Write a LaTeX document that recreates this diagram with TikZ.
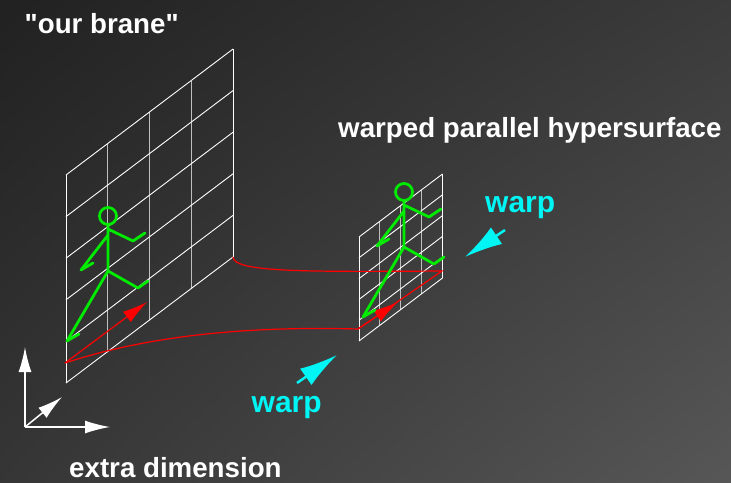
\documentclass[tikz,border=0pt]{standalone}
\usepackage{fontspec}
\setmainfont{Liberation Sans}[Ligatures = TeXOff]
\usetikzlibrary{arrows.meta,shadings}
\definecolor{figgreen}{RGB}{0,235,0}
\definecolor{warpcyan}{RGB}{0,245,245}

\begin{document}
\begin{tikzpicture}[x = 1pt, y = -1pt,
  grid line/.style = {white, line width = .9pt},
  inner line/.style = {white!75!black, line width = 1.1pt},
  figure/.style = {figgreen, line width = 2.8pt, line cap = round,
    line join = round},
  shift path/.style = {red, line width = 1.2pt},
  red arrow/.style = {shift path, -{Latex[length = 25pt, width = 13pt]}},
  axis arrow/.style = {white, line width = 1.5pt,
    -{Latex[length = 25pt, width = 13pt]}},
  warp arrow/.style = {warpcyan, line width = 2.5pt,
    -{Latex[length = 38pt, width = 20pt]}},
  label text/.style = {font = \fontsize{27.7}{30}\selectfont\bfseries,
    text = white, inner sep = 0, anchor = base west},
  warp text/.style = {label text, font = \fontsize{30}{32}\selectfont\bfseries,
    text = warpcyan}]
  \useasboundingbox (0, 0) rectangle (731, 482);
  \shade[upper left = black!87, upper right = black!77, lower left = black!79,
  lower right = black!66] (0, 0) rectangle (731, 482);

  % the brane and its warped copy, same grid at half size
  \foreach \x/\y/\s in {66/175/1, 359/237/.5} {
    \begin{scope}[shift = {(\x, \y)}, scale = \s]
      \foreach \i in {1, 2, 3}
        \draw[inner line] (41.75 * \i, -31.5 * \i) -- ++(0, 208);
      \foreach \k in {0, ..., 5}
        \draw[grid line] (0, 41.6 * \k) -- (167, -126 + 41.6 * \k);
      \draw[grid line] (0, 0) -- (0, 208) (167, -126) -- (167, 82);
    \end{scope}
  }

  % path through the bulk
  \coordinate (P1) at (65, 363);
  \coordinate (P2) at (233, 257);
  \coordinate (Q1) at (358, 329);
  \coordinate (Q2) at (442, 271);
  \draw[shift path] (P1) .. controls (150, 335) and (250, 326) .. (Q1) -- (Q2)
  .. controls (300, 272) and (234, 272) .. (P2);
  \draw[red arrow] (P1) -- (147, 302);
  \draw[red arrow] (Q1) -- (398, 302);

  % walkers
  \foreach \x/\y in {108/216, 404/192} {
    \begin{scope}[shift = {(\x, \y)}]
      \draw[figure] (0, 0) circle[radius = 8.5pt];
      \draw[figure] (0, 9) -- (0, 55) (0, 13) -- (25, 25) -- (37, 17)
      (0, 19) -- (-27, 54) -- (-15, 47) (0, 55) -- (30, 72) -- (40, 65)
      (0, 55) -- (-41, 125) -- (-29, 118);
    \end{scope}
  }

  % axes
  \coordinate (O) at (25, 427);
  \draw[axis arrow] (O) -- (25, 347);
  \draw[axis arrow] (O) -- (110, 427);
  \draw[axis arrow] (O) -- (62, 397);

  \draw[warp arrow] (505, 230) -- (465, 257);
  \draw[warp arrow] (297, 383) -- (337, 355);

  \node[label text] (brane) at (24.5, 33) {"our brane"};
  \node[label text] (hyper) at (338, 137) {warped parallel hypersurface};
  \node[label text] (extra) at (69, 477) {extra dimension};
  \node[warp text] (warp1) at (485, 212) {warp};
  \node[warp text] (warp2) at (251.5, 412) {warp};
\end{tikzpicture}
\end{document}
